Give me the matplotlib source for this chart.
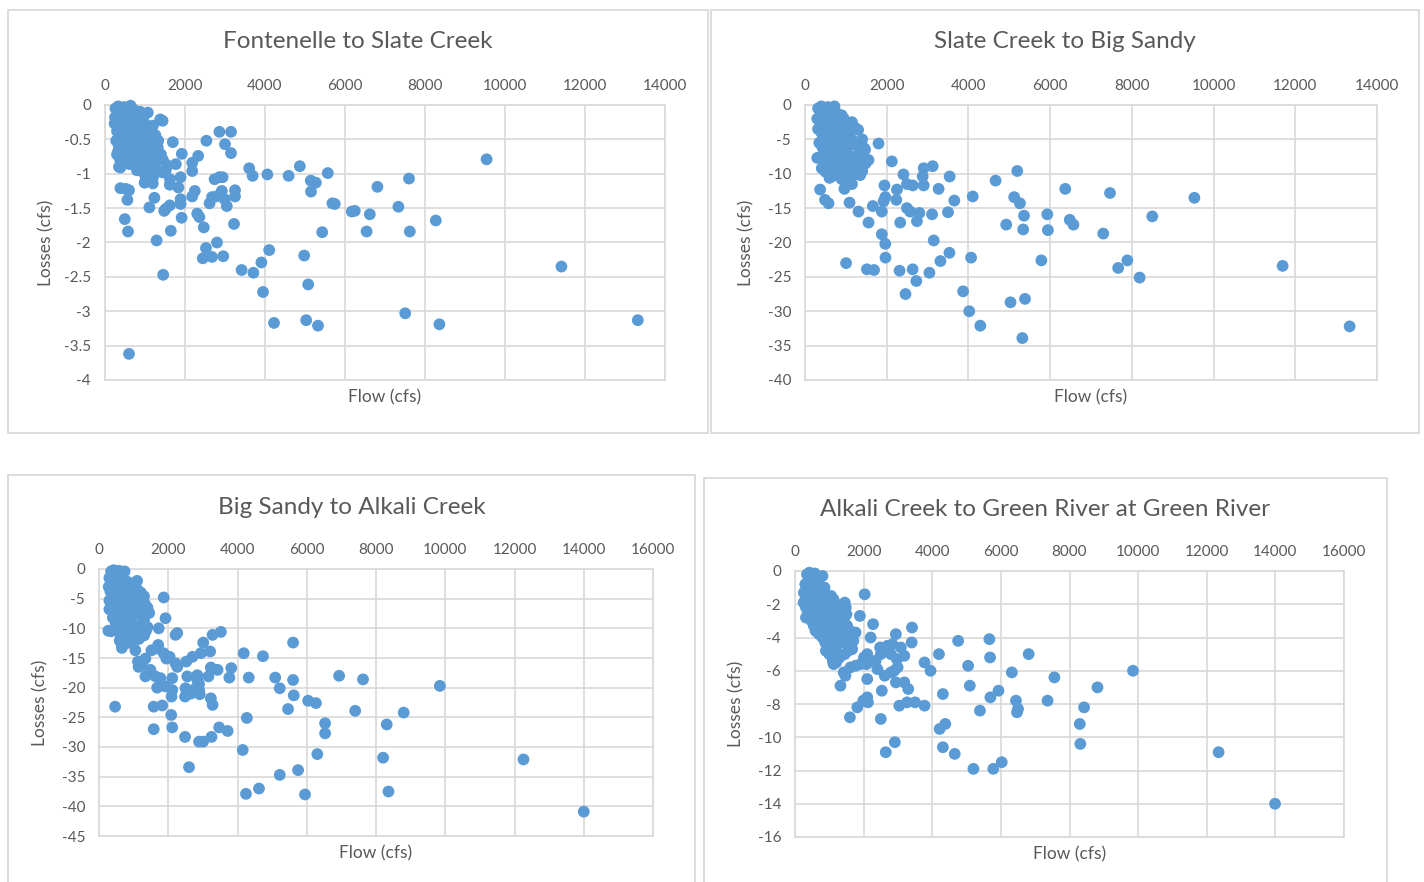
#!/usr/bin/env python

import matplotlib
matplotlib.use("Agg")
import matplotlib.pyplot as plt
from matplotlib.patches import Rectangle
from matplotlib.ticker import FuncFormatter

plt.rcParams['font.family'] = ['Lato', 'DejaVu Sans']
plt.rcParams['axes.unicode_minus'] = False

BLUE = '#5B9BD5'
GREY_TXT = '#595959'
GRID = '#D9D9D9'

titles = ["Fontenelle to Slate Creek", "Slate Creek to Big Sandy",
          "Big Sandy to Alkali Creek", "Alkali Creek to Green River at Green River"]
x_label = "Flow (cfs)"
y_label = "Losses (cfs)"

# ---- Fontenelle to Slate Creek (flow, loss) ----
flow1 = [400, 650, 900, 1150, 500, 800, 1200, 350, 1300,
         260, 330, 420, 480, 560, 640, 720, 800, 880, 980, 1070,
         250, 320, 400, 470, 540, 610, 690, 760, 840, 920, 1010, 1120, 1200,
         240, 300, 370, 450, 520, 600, 670, 750, 830, 910, 990, 1080, 1170, 1260, 1330,
         280, 350, 430, 510, 590, 660, 740, 820, 900, 980, 1060, 1150, 1240, 1320, 1400,
         300, 380, 470, 560, 700, 860, 1000, 1100, 1250, 1450, 1520,
         1380, 1440, 2860, 3150, 3000, 3150, 2535, 1695, 2330, 1920, 2180, 2180,
         3605, 3690, 4060, 4590, 4870, 5145, 5270, 5150, 5570, 5685, 6170, 5430,
         4980, 5080, 4105, 3910, 3950, 3415, 3710, 3225, 3250, 3250, 3045, 2990,
         2920, 2775, 2675, 2615, 2740, 2860, 2940, 2245, 2180, 2305, 2360, 2470,
         2525, 2800, 2445, 2675, 2955, 1915, 1890, 1890, 1645, 1620, 1520, 1480,
         1290, 1455, 1235, 1110, 495, 575, 385, 560, 600, 520, 1620, 1835, 1890,
         1625, 990, 1195, 1440, 1565, 1770, 385, 615, 700, 330, 1030, 1195,
         9540, 11410, 13320, 7505, 8360, 8270, 7600, 7620, 7335, 6810, 6620,
         6540, 6245, 5745, 5030, 5325, 4225, 600]
loss1 = [-0.50, -0.55, -0.45, -0.65, -0.85, -0.95, -1.05, -0.90, -0.95,
         -0.05, -0.02, -0.06, -0.03, -0.08, -0.01, -0.07, -0.12, -0.10, -0.15, -0.11,
         -0.18, -0.22, -0.15, -0.25, -0.19, -0.28, -0.21, -0.30, -0.26, -0.33, -0.28, -0.36, -0.30,
         -0.27, -0.38, -0.33, -0.42, -0.36, -0.47, -0.40, -0.52, -0.45, -0.55, -0.48, -0.58, -0.50, -0.44, -0.52,
         -0.52, -0.60, -0.55, -0.66, -0.60, -0.72, -0.65, -0.76, -0.70, -0.80, -0.73, -0.84, -0.70, -0.62, -0.72,
         -0.72, -0.80, -0.68, -0.82, -0.85, -0.92, -1.02, -0.95, -0.90, -0.80, -0.95,
         -0.21, -0.23, -0.39, -0.39, -0.57, -0.70, -0.52, -0.54, -0.74, -0.71, -0.84, -0.96,
         -0.92, -1.03, -1.01, -1.03, -0.89, -1.10, -1.13, -1.26, -0.99, -1.43, -1.55, -1.85,
         -2.19, -2.61, -2.11, -2.29, -2.72, -2.40, -2.44, -1.73, -1.24, -1.33, -1.47, -1.37,
         -1.25, -1.33, -1.34, -1.43, -1.08, -1.05, -1.05, -1.25, -1.33, -1.58, -1.63, -1.78,
         -2.08, -2.00, -2.23, -2.21, -2.20, -1.64, -1.44, -1.37, -1.83, -1.46, -1.51, -1.54,
         -1.97, -2.47, -1.35, -1.49, -1.66, -1.84, -1.21, -1.38, -1.24, -1.22, -1.16, -1.20, -1.05,
         -1.08, -1.13, -1.14, -0.98, -0.88, -0.86, -0.91, -0.86, -0.84, -0.67, -0.91, -0.84,
         -0.79, -2.35, -3.13, -3.03, -3.19, -1.68, -1.07, -1.84, -1.48, -1.19, -1.59,
         -1.84, -1.54, -1.44, -3.13, -3.21, -3.17, -3.62]

# ---- Slate Creek to Big Sandy ----
flow2 = [600, 900, 1150, 450, 1000, 1200, 650, 850, 1350, 1400,
         320, 400, 480, 560, 640, 720, 780,
         300, 380, 460, 540, 620, 700, 780, 860, 950, 1030,
         320, 400, 480, 560, 640, 720, 800, 880, 960, 1050, 1140, 1220, 1300,
         350, 430, 510, 590, 670, 750, 830, 910, 990, 1080, 1170, 1260, 1350, 1450,
         400, 480, 560, 640, 720, 800, 880, 960, 1040, 1120, 1200, 1290, 1380, 1480,
         500, 700, 900, 1100, 1250, 1400, 1150,
         1800, 2125, 1470, 1555, 2410, 2495, 2640, 2250, 2235, 1945, 1965, 1925,
         1880, 1660, 1555, 1310, 1090, 965, 370, 490, 575, 600, 410, 300, 1880,
         1965, 1970, 1005, 1515, 1690, 2315, 2635, 2725, 2460, 3045, 3315, 3535,
         3150, 3110, 2740, 2800, 2330, 2495, 2575, 2905, 3125, 2880, 2905, 3270,
         3540, 3655, 3500, 4105, 4065, 3870, 4665, 5195, 5120, 5260, 5360, 5340,
         4925, 5930, 5945, 5785, 4020, 4290, 5030, 5320, 5385, 6370, 6480, 6570,
         7300, 7465, 7665, 7890, 8190, 8500, 9530, 11690, 13330]
loss2 = [-1.2, -1.5, -2.5, -4.8, -5.5, -9.5, -10.0, -4.0, -10.2, -5.0,
         -0.5, -0.2, -0.8, -0.3, -0.6, -0.2, -1.2,
         -2.0, -1.5, -2.5, -1.8, -2.8, -2.2, -3.0, -2.5, -2.0, -3.2,
         -3.5, -4.0, -3.3, -4.5, -3.8, -5.0, -4.2, -5.3, -4.5, -4.0, -3.8, -3.3, -3.6,
         -5.5, -6.2, -5.5, -6.8, -6.0, -7.0, -6.5, -7.5, -6.8, -6.0, -5.2, -5.8, -6.5, -6.3,
         -7.5, -8.2, -7.8, -8.8, -8.2, -9.3, -8.7, -9.8, -9.0, -8.3, -7.5, -8.2, -7.8, -8.5,
         -9.7, -10.3, -10.8, -10.5, -10.0, -9.6, -11.5,
         -5.6, -8.2, -6.5, -8.0, -10.1, -11.5, -11.7, -12.3, -13.8, -11.7, -13.4, -14.0,
         -15.5, -14.7, -17.1, -15.5, -14.2, -12.2, -12.3, -13.8, -14.3, -10.6, -9.2, -7.7, -18.8,
         -20.2, -22.2, -23.0, -23.9, -24.0, -24.1, -23.9, -25.6, -27.5, -24.4, -22.7, -21.5,
         -19.7, -15.9, -16.9, -15.7, -17.1, -15.0, -15.5, -9.2, -8.9, -10.4, -11.7, -12.2,
         -10.4, -13.9, -15.6, -13.3, -22.2, -27.1, -11.0, -9.6, -13.4, -14.3, -16.1, -18.1,
         -17.4, -15.9, -18.2, -22.6, -30.0, -32.1, -28.7, -33.9, -28.2, -12.2, -16.7, -17.4,
         -18.7, -12.8, -23.7, -22.6, -25.1, -16.2, -13.5, -23.4, -32.2]

# ---- Big Sandy to Alkali Creek ----
flow3 = [400, 700, 1000, 1200, 500, 900, 1250, 600, 800, 1350, 380, 1100,
         350, 420, 500, 580, 650, 740,
         300, 380, 460, 540, 620, 700, 780, 860, 940,
         280, 330, 410, 490, 570, 650, 730, 810, 890, 970, 1050, 1130, 1210, 1300,
         300, 360, 440, 520, 600, 680, 760, 840, 920, 1000, 1080, 1160, 1240, 1320, 1400, 1450,
         300, 400, 480, 560, 640, 720, 800, 880, 960, 1040, 1120, 1200, 1300, 1400,
         350, 600, 850, 1000, 1150, 1300,
         1870, 1920, 1725, 2260, 2210, 3280, 3520, 3010, 3210, 2940, 2700, 2520,
         4180, 4735, 5605, 6935, 7400, 1870, 1710, 660, 610, 270, 465, 1580, 1825,
         2085, 2115, 1580, 2485, 2890, 3005, 3250, 3470, 3715, 2600, 4150, 4270,
         5220, 5750, 6305, 6530, 6530, 6265, 6040, 5460, 5625, 5605, 5220, 5090,
         4325, 3765, 3820, 3425, 3230, 3160, 3230, 3280, 2890, 2890, 2795, 2500,
         2485, 2650, 2910, 2840, 2840, 2550, 2260, 2210, 2040, 1945, 2115, 2115,
         2095, 1920, 1775, 1680, 1630, 1485, 1340, 1240, 1125, 1145, 1680, 1515,
         1340, 1050, 855, 4245, 4620, 5950, 8360, 8310, 8205, 7625, 8800, 9845,
         12260, 14000]
loss3 = [-3.5, -5.0, -3.0, -5.5, -7.5, -8.0, -8.0, -12.0, -12.5, -10.5, -6.5, -2.0,
         -0.4, -0.2, -0.6, -0.3, -0.8, -0.4,
         -1.5, -2.0, -1.2, -2.3, -1.7, -2.6, -2.0, -2.9, -2.4,
         -3.0, -3.8, -3.2, -4.2, -3.5, -4.5, -3.8, -4.8, -4.1, -5.0, -4.2, -3.6, -4.0, -4.6,
         -5.3, -6.2, -5.6, -6.8, -6.0, -7.2, -6.5, -7.5, -6.8, -7.8, -7.0, -6.2, -6.8, -5.8, -6.5, -7.4,
         -6.8, -8.2, -9.0, -8.5, -9.5, -8.8, -9.8, -9.2, -10.3, -9.6, -10.6, -9.5, -8.6, -9.8,
         -10.5, -10.8, -11.5, -12.0, -11.8, -11.2,
         -4.8, -8.3, -10.0, -10.8, -11.1, -11.1, -10.6, -12.4, -13.9, -14.2, -14.8, -15.6,
         -14.2, -14.7, -12.4, -18.0, -23.9, -14.2, -12.8, -13.3, -12.2, -10.4, -23.2, -23.2, -23.0,
         -24.6, -26.7, -27.0, -28.3, -29.1, -29.1, -28.3, -26.7, -27.3, -33.4, -30.5, -25.1,
         -34.7, -33.9, -31.2, -26.0, -27.7, -22.6, -22.2, -23.6, -21.3, -18.7, -20.1, -18.3,
         -18.3, -18.3, -16.7, -17.0, -16.6, -18.1, -21.8, -22.9, -19.4, -20.4, -20.1, -20.1,
         -21.5, -21.0, -21.1, -17.9, -18.7, -18.1, -16.5, -15.9, -14.8, -15.1, -18.4, -20.4,
         -21.5, -19.8, -18.4, -20.0, -18.1, -17.0, -18.1, -16.2, -15.6, -16.5, -13.4, -13.7,
         -15.1, -13.7, -12.0, -37.9, -37.0, -38.0, -37.5, -26.2, -31.8, -18.6, -24.2, -19.7,
         -32.1, -40.9]

# ---- Alkali Creek to Green River at Green River ----
flow4 = [450, 750, 1000, 1300, 1500, 1400, 700, 1000, 1250, 1550, 1700, 1450, 900, 380, 550,
         350, 420, 500, 580, 650, 800,
         300, 380, 460, 540, 620, 700, 780, 860,
         260, 330, 410, 490, 570, 650, 730, 810, 890, 970, 1050, 1120,
         250, 320, 400, 480, 560, 640, 720, 800, 880, 960, 1040, 1120, 1200, 1280, 1360, 1450, 1480,
         320, 400, 480, 560, 640, 720, 800, 880, 960, 1040, 1120, 1200, 1280, 1360, 1440, 1520, 1600,
         600, 700, 800, 880, 960, 1040, 1120, 1200, 1280, 1360, 1440, 1520, 1600, 1650,
         900, 1000, 1100, 1200, 1300,
         2030, 1890, 2275, 2205, 2940, 3410, 3400, 4755, 5665, 4195, 5685, 6810,
         5045, 6320, 5930, 5095, 5695, 6440, 6500, 6470, 5390, 4310, 3775, 3950,
         3775, 3500, 3265, 3040, 3300, 3185, 2940, 2530, 2400, 2615, 2795, 2890,
         2990, 2105, 2105, 1990, 2125, 1815, 1600, 2500, 2910, 2645, 4215, 4380,
         4310, 4655, 1325, 1470, 1125, 1665, 1665, 1765, 2480, 2695, 2840, 3085,
         3185, 2970, 2795, 2500, 2350, 2105, 2010, 1910, 1765, 1615, 1420, 2085,
         6025, 5780, 5200, 7360, 7560, 8300, 8315, 8425, 8815, 9850, 12345, 13990]
loss4 = [-1.2, -1.3, -2.0, -2.8, -2.6, -3.5, -3.3, -3.7, -4.3, -4.8, -4.2, -5.0, -3.5, -2.4, -3.3,
         -0.2, -0.1, -0.3, -0.15, -0.4, -0.3,
         -0.8, -0.6, -0.9, -0.7, -1.0, -0.8, -1.1, -1.0,
         -1.3, -1.5, -1.3, -1.6, -1.4, -1.7, -1.5, -1.8, -1.6, -1.9, -1.5, -1.7,
         -1.9, -2.2, -2.0, -2.3, -2.1, -2.4, -2.2, -2.5, -2.3, -2.6, -2.4, -2.2, -2.0, -2.3, -2.1, -1.9, -2.2,
         -2.8, -2.6, -3.0, -2.8, -3.1, -2.9, -3.3, -3.1, -3.4, -3.2, -3.5, -3.0, -3.3, -3.0, -2.8, -3.3, -3.6,
         -3.6, -3.8, -4.0, -4.3, -4.0, -4.5, -4.2, -4.6, -4.0, -3.8, -4.3, -4.0, -4.6, -3.9,
         -4.8, -5.0, -5.4, -5.5, -5.2,
         -1.4, -2.7, -3.2, -4.0, -3.8, -3.4, -4.3, -4.2, -4.1, -5.0, -5.2, -5.0,
         -5.7, -6.1, -7.2, -6.9, -7.6, -7.8, -8.3, -8.5, -8.4, -7.4, -5.5, -6.0,
         -8.1, -7.9, -7.9, -8.1, -7.1, -6.7, -6.7, -7.2, -5.9, -6.3, -6.1, -6.0,
         -5.8, -6.5, -7.6, -7.8, -7.9, -8.2, -8.8, -8.9, -10.3, -10.9, -9.5, -9.2,
         -10.6, -11.0, -6.9, -6.3, -5.6, -4.7, -4.0, -3.7, -4.6, -4.5, -4.4, -4.6,
         -5.1, -5.3, -5.0, -5.0, -5.4, -5.0, -5.2, -5.6, -5.7, -5.8, -6.1, -5.6,
         -11.5, -11.9, -11.9, -7.8, -6.4, -9.2, -10.4, -8.2, -7.0, -6.0, -10.9, -14.0]

x_max = [14000, 14000, 16000, 16000]
y_min = [-4, -40, -45, -16]
y_step = [0.5, 5, 5, 2]

# pixel layout of each chart: outer frame (l, t, r, b) and plot area (l, t, r, b)
frames = [(8, 10, 708, 433), (711, 10, 1419, 433), (8, 475, 695, 890), (704, 478, 1387, 890)]
plots = [(105, 105, 665, 380), (805, 105, 1377, 380), (99, 569, 653, 836), (795, 571, 1344, 837)]
title_y = [42, 41, 507, 509]

W, H = 1424, 882


def fx(px):
    return px / W


def fy(py):
    return 1 - py / H


def draw_panel(fig, i, flow, loss):
    fl, ft, fr, fb = frames[i]
    fig.patches.append(Rectangle((fx(fl), fy(fb)), fx(fr - fl), (fb - ft) / H,
                                 transform=fig.transFigure, fill=False,
                                 edgecolor=GRID, lw=1.3))
    pl, pt, pr, pb = plots[i]
    ax = fig.add_axes([fx(pl), fy(pb), fx(pr - pl), (pb - pt) / H])
    ax.scatter(flow, loss, s=72, color=BLUE, edgecolors='none', zorder=3, clip_on=False)
    ax.set_xlim(0, x_max[i])
    ax.set_ylim(y_min[i], 0)
    ax.set_xticks(range(0, x_max[i] + 1, 2000))
    n = int(round(-y_min[i] / y_step[i]))
    ax.set_yticks([-k * y_step[i] for k in range(n + 1)])
    ax.yaxis.set_major_formatter(FuncFormatter(lambda v, p: '{:g}'.format(v)))
    ax.xaxis.tick_top()
    ax.tick_params(axis='x', length=0, pad=9, labelsize=11, labelcolor=GREY_TXT)
    ax.tick_params(axis='y', length=0, pad=10, labelsize=11, labelcolor=GREY_TXT)
    ax.grid(True, color=GRID, lw=1.2, zorder=0)
    ax.set_axisbelow(True)
    for sp in ax.spines.values():
        sp.set_color(GRID)
        sp.set_linewidth(1.2)

    fig.text(fx((fl + fr) / 2), fy(title_y[i]), titles[i], ha='center', va='center',
             fontsize=17.5, color=GREY_TXT)
    fig.text(fx((pl + pr) / 2), fy(pb + 17), x_label, ha='center', va='center',
             fontsize=12.5, color=GREY_TXT)
    fig.text(fx(pl - 59), fy((pt + pb) / 2), y_label, ha='center', va='center',
             rotation=90, fontsize=12.5, color=GREY_TXT)
    return ax


fig = plt.figure(figsize=(W / 100, H / 100), dpi=100)
draw_panel(fig, 0, flow1, loss1)
draw_panel(fig, 1, flow2, loss2)
draw_panel(fig, 2, flow3, loss3)
draw_panel(fig, 3, flow4, loss4)
fig.savefig("out.png", dpi=100, facecolor='white')
